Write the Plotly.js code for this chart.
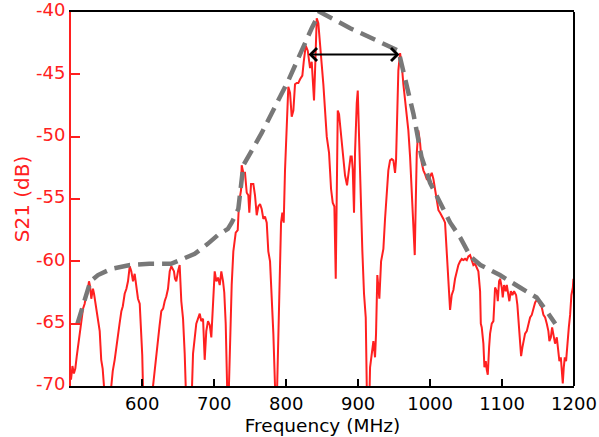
<!DOCTYPE html>
<html>
<head>
<meta charset="utf-8">
<script src="https://cdn.plot.ly/plotly-3.0.1.min.js"></script>
<style>
html,body{margin:0;padding:0;background:#fff;}
#chart{width:599px;height:437px;}
</style>
</head>
<body>
<div id="chart"></div>
<script>
// Measured S21 response (MHz, dB); values below -70 dB run off the bottom of the plot
var freqMHz = [
501,503,505,507,509,511,513,515,517.7,520,522.3,524,526,527.5,529.2,531.5,533,534,536.2,538.5,540.9,542,543,545,546.4,552,
557,559,561.7,564,566.3,568.5,571,573,575.6,578,580.2,582.6,584.8,587.2,589.5,591.7,594.1,596.5,597.5,598.7,600,601,608,
615,618.2,620,622,624,626.5,629,631.2,633.5,635.8,638.2,640.4,642,644.1,645.5,647.3,649.7,652,654.3,656.7,659,660.4,665,
669.2,670.6,673,675.1,677.5,679.9,682,684.5,686.8,689,691.4,693.8,696,698.4,700.7,703,705.3,707.7,709.9,712.3,714,716,717.4,719.5,
720.5,722,724.3,726.6,729.9,732.7,734.5,737.3,738.2,740.5,742.8,745.2,747.4,748.8,751.2,754.4,756.7,759.1,761.3,763.7,766,768.3,770.6,773,775.2,777.6,779.9,782.2,784.5,786,
787.5,789.1,791.5,792.9,794.7,796.6,798.4,800.8,803,805.4,807.7,810,812.3,814.7,816.9,819.3,822.5,824.4,827.2,830,833.2,835.5,838.7,840.1,842.5,844.7,847.1,849.4,851.7,854,856.4,859.6,862.4,864.7,867,868.9,870.3,871.7,873.5,876.3,879.5,881.8,884.6,887.4,889.5,891.1,892.5,894.3,895.7,898.1,899.5,901.3,903.7,905.9,908.2,910.6,912,914.5,
916.6,918.9,921.2,923.5,924.9,926.7,928.1,929.5,931.9,933.7,935.1,937.4,939.8,942,944.4,946.7,949,951.3,952.7,954.5,955.9,958.3,960.6,962.9,965.2,967.6,969.8,972.2,974.5,976.8,978.7,980.1,981.5,983.7,986.1,988.4,990.7,993,995.4,997.6,1000,1002.3,1004.6,1006.9,1009.4,1011.6,1013.9,1016.2,1018.5,1020.8,1023.2,1025.4,
1027.8,1030.1,1032.4,1034.7,1037.1,1039.3,1041.7,1044,1046.3,1048.6,1051,1053.2,1055.6,1057.9,1060.2,1062.5,1064.9,1067.1,1069.5,1070.5,1071.8,1074.1,1075.5,1077.4,1078.8,1080.2,1082,1083.4,1085.7,1088,1089.4,1090.3,1092.7,1094.1,1095.9,1097.3,1099.6,1101,1102.8,1105.2,1106.6,1108.8,1110.2,1112.2,1114.4,1116.7,1119.5,1121.3,1123.3,1125.1,1126.5,1128.3,1129.7,1132,1134.4,1136.6,1139,1141.3,1143.6,1146,1148.3,1150.5,1152.9,1155.3,1157.5,1159.9,1162.2,1164.4,1165.8,1167.8,1169.6,1171.4,1173.7,1176.1,1178.3,1179.7,1181.7,1183,1184.4,1185.8,1187.2,1189,1190.8,1192.8,1194.6,1196.4,1198.4,1199.2
];
var s21dB = [
-69.5,-68.4,-69.0,-68.6,-67.6,-66.6,-65.6,-65.0,-63.8,-63.4,-62.6,-62.4,-61.6,-62.0,-63.0,-62.2,-62.6,-63.0,-63.6,-64.8,-65.6,-66.8,-67.9,-68.6,-70,-74,
-70,-68.8,-67.9,-66.8,-65.8,-65.0,-64.0,-63.6,-62.6,-62.2,-61.6,-60.4,-60.8,-61.6,-61.0,-62.2,-63.0,-63.4,-64.5,-65.8,-67.5,-70,-74,
-70,-68.2,-67.2,-65.8,-65.2,-64.0,-63.8,-63.2,-62.8,-62.2,-60.8,-60.4,-60.6,-60.8,-61.4,-61.6,-60.8,-60.3,-63.2,-64.6,-67.4,-70,-74,
-70,-67.4,-65.8,-65.0,-64.6,-64.2,-64.8,-64.6,-67.9,-65.6,-64.8,-65.1,-66.1,-63.6,-60.8,-61.6,-61.3,-61.9,-60.8,-61.6,-62.5,-65.0,-70,-74,
-70,-65.8,-61.9,-59.2,-57.7,-57.5,-55.3,-54.3,-52.3,-52.9,-52.9,-54.5,-54.7,-56.1,-53.8,-53.8,-54.7,-56.3,-55.6,-55.4,-55.8,-56.6,-56.4,-56.9,-59.2,-60.0,-62.6,-65.8,-70,-74,
-70,-65.8,-60.6,-56.9,-56.1,-56.9,-52.7,-48.4,-46.0,-46.5,-48.4,-47.9,-45.8,-45.7,-45.7,-45.4,-45.1,-44.0,-42.7,-43.1,-44.5,-44.0,-47.1,-44.8,-40.5,-40.9,-42.3,-44.2,-45.8,-47.6,-50.0,-51.3,-54.2,-55.3,-55.6,-61.4,-52.7,-47.9,-48.2,-50.0,-52.1,-53.1,-53.9,-52.6,-51.6,-51.6,-52.6,-56.1,-51.3,-47.3,-46.3,-50.0,-55.3,-59.2,-62.6,-64.5,-70,-74,
-68.5,-67.2,-66.4,-67.7,-65.8,-61.1,-61.9,-63.0,-60.0,-59.5,-59.0,-56.6,-54.2,-52.7,-51.9,-51.8,-51.9,-52.9,-51.9,-47.4,-44.7,-43.3,-44.2,-45.8,-47.1,-48.2,-49.5,-51.6,-54.2,-57.4,-59.5,-55.3,-51.3,-49.5,-50.5,-52.1,-52.7,-53.0,-53.4,-53.5,-53.2,-52.9,-53.4,-54.2,-55.3,-55.9,-56.1,-56.3,-56.6,-56.9,-59.5,-61.9,
-63.9,-62.7,-62.3,-61.4,-60.8,-60.3,-60.0,-59.8,-59.9,-59.8,-59.9,-59.6,-59.5,-60.0,-60.3,-60.2,-60.6,-60.8,-62.4,-65.0,-65.3,-66.6,-68.5,-68.0,-68.7,-69.1,-66.9,-65.8,-65.0,-64.8,-63.2,-62.1,-62.4,-63.2,-61.6,-61.4,-62.1,-62.9,-61.9,-62.4,-61.9,-62.9,-63.2,-62.4,-62.7,-62.4,-62.7,-63.5,-65.3,-66.6,-67.6,-66.9,-66.4,-65.8,-65.6,-65.0,-64.5,-64.3,-63.7,-63.3,-63.1,-63.2,-63.5,-63.7,-64.3,-64.5,-65.0,-65.6,-66.4,-66.1,-65.3,-65.8,-66.6,-66.1,-67.2,-68.0,-67.7,-68.7,-69.8,-68.5,-67.7,-68.0,-66.4,-65.3,-64.3,-62.7,-62.1,-61.4
];

// Gray dashed envelope
var envFreq = [510,528,538.5,557,583,610,640,654,673,691,705,719,724.3,733.5,740.5,766,803,835.5,847,889,956,977,988,1000,1028,1042,1056,1070,1097,1125,1148,1162,1174];
var envDB   = [-65.0,-61.6,-61.1,-60.6,-60.3,-60.2,-60.2,-59.9,-59.4,-58.6,-57.9,-57.4,-56.9,-55.8,-52.3,-49.7,-45.5,-41.3,-40.0,-41.3,-43.1,-48.2,-51.6,-53.7,-56.9,-58.1,-59.6,-60.3,-61.1,-62.1,-62.9,-64.0,-65.0];

// Bandwidth arrow
var arrowFreq = [829, 957.5];
var arrowDB = -43.4;

// Ticks
var xTickVals = [600,700,800,900,1000,1100,1200];
var xTickText = ['600','700','800','900','1000','1100','1200'];
var yTickVals = [-70,-65,-60,-55,-50,-45,-40];
var yTickText = ['-70','-65','-60','-55','-50','-45','-40'];

var RED = '#ff2020';
var FONT = 'DejaVu Sans, Liberation Sans, Arial, sans-serif';

var traces = [
  {x: freqMHz, y: s21dB, type: 'scatter', mode: 'lines',
   line: {color: RED, width: 2}, hoverinfo: 'skip'},
  {x: envFreq, y: envDB, type: 'scatter', mode: 'lines',
   line: {color: '#787878', width: 4.5, dash: '16px,8px'}, hoverinfo: 'skip'}
];

var layout = {
  width: 599, height: 437,
  margin: {l: 71, r: 25, t: 12, b: 51, pad: 0},
  paper_bgcolor: '#fff', plot_bgcolor: '#fff',
  showlegend: false,
  font: {family: FONT, size: 18, color: '#000'},
  xaxis: {
    range: [501, 1200], tickmode: 'array', tickvals: xTickVals, ticktext: xTickText,
    ticks: 'inside', ticklen: 7, tickwidth: 2, tickcolor: '#000',
    showline: true, linecolor: '#000', linewidth: 2, mirror: true,
    showgrid: false, zeroline: false, ticklabeloverflow: 'allow',
    tickfont: {family: FONT, size: 18, color: '#000'},
    title: {text: 'Frequency (MHz)', font: {family: FONT, size: 18.5, color: '#000'}, standoff: 6}
  },
  yaxis: {
    range: [-70, -40], tickmode: 'array', tickvals: yTickVals, ticktext: yTickText,
    ticks: 'inside', ticklen: 9, tickwidth: 2, tickcolor: RED,
    showline: true, linecolor: RED, linewidth: 2,
    showgrid: false, zeroline: false, ticklabeloverflow: 'allow', ticklabelshift: -2,
    tickfont: {family: FONT, size: 18, color: RED},
    title: {text: 'S21 (dB)', font: {family: FONT, size: 20, color: RED}, standoff: 1}
  },
  shapes: [
    {type: 'line', xref: 'paper', yref: 'paper', x0: 1, x1: 1, y0: 0, y1: 1,
     line: {color: '#000', width: 2}}
  ],
  annotations: [
    {x: arrowFreq[1], y: arrowDB, ax: arrowFreq[0], ay: arrowDB, axref: 'x', ayref: 'y',
     xref: 'x', yref: 'y', text: '', showarrow: true,
     arrowhead: 4, startarrowhead: 4, arrowside: 'end+start',
     arrowwidth: 2, arrowsize: 1.25, startarrowsize: 1.25, arrowcolor: '#000'}
  ]
};

Plotly.newPlot('chart', traces, layout, {displayModeBar: false, staticPlot: true});
</script>
</body>
</html>
